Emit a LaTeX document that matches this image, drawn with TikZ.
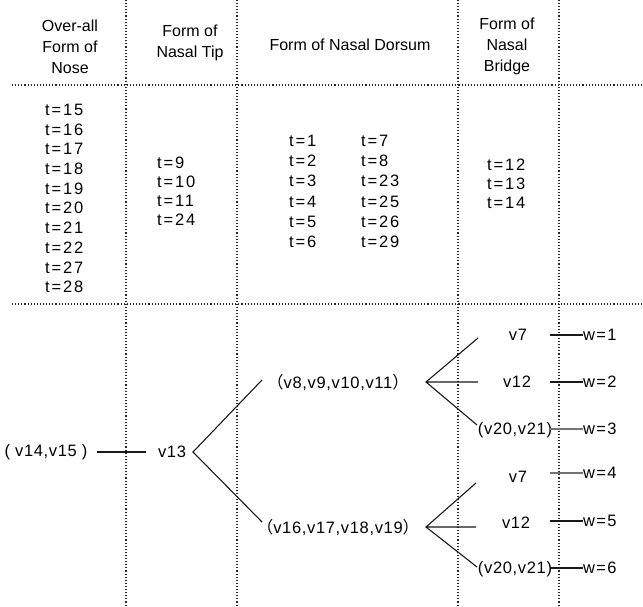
\documentclass[tikz,border=0pt]{standalone}
\usepackage{fontspec}
\setmainfont{Liberation Sans}
\newfontfamily\cjk{Noto Sans CJK SC}
\newfontfamily\tfont[LetterSpace=11]{Liberation Sans}
\newfontfamily\vfont[LetterSpace=4]{Liberation Sans}
\newfontfamily\wfont[LetterSpace=8]{Liberation Sans}
\newcommand\lpar{{\cjk （}}
\newcommand\rpar{{\cjk ）}}

\begin{document}
\begin{tikzpicture}[x=1pt,y=-1pt,
  grid/.style={line width=1.1pt, dash pattern=on 1.1pt off 2pt, black!85},
  head/.style={font=\fontsize{16}{21}\selectfont, align=center, inner sep=0pt},
  tlist/.style={font=\tfont\fontsize{16.5}{#1}\selectfont, align=left, anchor=west, inner sep=0pt},
  vlab/.style={font=\vfont\fontsize{16.5}{19}\selectfont, inner sep=0pt},
  wlab/.style={font=\wfont\fontsize{16.5}{19}\selectfont, anchor=west, inner sep=0pt},
  link/.style={line width=1.1pt, black!90},
  faint/.style={line width=1.1pt, black!55},
]
\useasboundingbox (0,0) rectangle (643,607);

% column separators and row rules
\foreach \x in {126,237,458,559} \draw[grid] (\x,0) -- (\x,607);
\foreach \y in {85,304} \draw[grid] (12,\y) -- (643,\y);

% column headings
\node[head] (h1) at (70,47) {Over-all\\Form of\\Nose};
\node[head] (h2) at (190,43) {Form of\\Nasal Tip};
\node[head] (h3) at (350,45) {Form of Nasal Dorsum};
\node[head] (h4) at (507,46) {Form of\\Nasal\\Bridge};

% feature indices
\node[tlist=19.7] (t1) at (45,198.5) {t=15\\t=16\\t=17\\t=18\\t=19\\t=20\\t=21\\t=22\\t=27\\t=28};
\node[tlist=19] (t2) at (157,191) {t=9\\t=10\\t=11\\t=24};
\node[tlist=20.2] (t3a) at (289,191.5) {t=1\\t=2\\t=3\\t=4\\t=5\\t=6};
\node[tlist=20.2] (t3b) at (361,191.5) {t=7\\t=8\\t=23\\t=25\\t=26\\t=29};
\node[tlist=19] (t4) at (487,184) {t=12\\t=13\\t=14};

% tree nodes
\node[vlab] (r) at (46,452) {(\kern5pt v14,v15\kern5pt)};
\node[vlab] (v13) at (172,452) {v13};
\node[vlab] (na) at (338,382) {\lpar v8,v9,v10,v11\rpar};
\node[vlab] (nb) at (338,527) {\lpar v16,v17,v18,v19\rpar};
\node[vlab] (la1) at (518,335) {v7};
\node[vlab] (la2) at (517,382) {v12};
\node[vlab] (la3) at (515,430) {(v20,v21)};
\node[vlab] (lb1) at (518,477) {v7};
\node[vlab] (lb2) at (516,523) {v12};
\node[vlab] (lb3) at (515,569) {(v20,v21)};

\node[wlab] (w1) at (583,335) {w=1};
\node[wlab] (w2) at (583,382) {w=2};
\node[wlab] (w3) at (583,429) {w=3};
\node[wlab] (w4) at (583,473) {w=4};
\node[wlab] (w5) at (583,521) {w=5};
\node[wlab] (w6) at (583,568) {w=6};

% branch points and branch ends
\coordinate (r0) at (97,452);
\coordinate (f0) at (193,452);
\coordinate (e1) at (262,380);
\coordinate (e2) at (262,522);
\coordinate (fa) at (426,382);
\coordinate (ea1) at (478,338);
\coordinate (ea2) at (478,382);
\coordinate (ea3) at (477,425);
\coordinate (fb) at (426,527);
\coordinate (eb1) at (476,483);
\coordinate (eb2) at (476,527);
\coordinate (eb3) at (477,567);
\foreach \i/\y in {1/335,2/382,3/429,4/473,5/521,6/568}
  \coordinate (s\i) at (550,\y);

% connectors
\draw[link] (r0) -- ([xshift=-12pt]v13.west);
\draw[link] (e1) -- (f0) -- (e2);
\draw[link] (ea1) -- (fa) -- (ea3) (fa) -- (ea2);
\draw[link] (eb1) -- (fb) -- (eb3) (fb) -- (eb2);
\draw[link] (s1) -- (w1.west);
\draw[link] (s2) -- (w2.west);
\draw[faint] (s3) -- (w3.west);
\draw[faint] (s4) -- (w4.west);
\draw[link] (s5) -- (w5.west);
\draw[link] (s6) -- (w6.west);
\end{tikzpicture}
\end{document}
